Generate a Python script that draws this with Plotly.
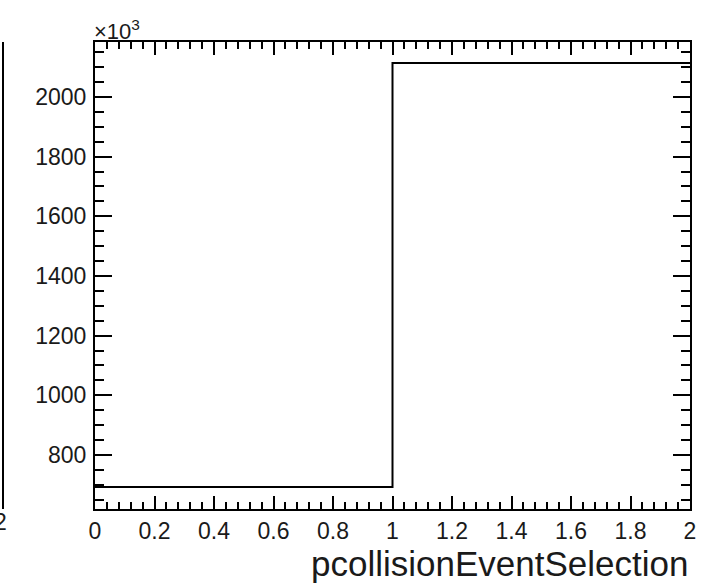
import plotly.graph_objects as go

# Data (counts in units of 10^3)
bin_edges = [0.0, 1.0, 2.0]
bin_counts = [693, 2114]
x_ticks = [0, 0.2, 0.4, 0.6, 0.8, 1, 1.2, 1.4, 1.6, 1.8, 2]
x_tick_labels = ["0", "0.2", "0.4", "0.6", "0.8", "1", "1.2", "1.4", "1.6", "1.8", "2"]
y_ticks = [800, 1000, 1200, 1400, 1600, 1800, 2000]
x_title = "pcollisionEventSelection"

step_x = bin_edges
step_y = bin_counts + [bin_counts[-1]]

FONT = "Liberation Sans, Arial, Helvetica, sans-serif"
TXT = "#1a1a1a"

fig = go.Figure()
fig.add_trace(go.Scatter(
    x=step_x, y=step_y, mode="lines", line_shape="hv",
    line=dict(color="black", width=2), showlegend=False, hoverinfo="skip"))

axis_common = dict(
    showline=True, linecolor="black", linewidth=2, mirror="ticks",
    ticks="inside", tickcolor="black", tickwidth=2,
    showgrid=False, zeroline=False,
    tickfont=dict(family=FONT, size=23, color=TXT),
)

fig.update_xaxes(
    range=[0, 2], tickvals=x_ticks, ticktext=x_tick_labels, ticklen=13,
    minor=dict(dtick=0.04, tick0=0, ticklen=7, ticks="inside", tickcolor="black", tickwidth=1.5),
    ticklabelstandoff=0,
    **axis_common)
fig.update_yaxes(
    range=[619, 2184], tickvals=y_ticks, ticklen=17,
    minor=dict(dtick=50, tick0=0, ticklen=9, ticks="inside", tickcolor="black", tickwidth=1.5),
    ticklabelstandoff=2,
    **axis_common)

fig.update_layout(
    width=708, height=583,
    margin=dict(l=95, r=18, t=42, b=74),
    paper_bgcolor="white", plot_bgcolor="white",
    font=dict(family=FONT, color=TXT),
    annotations=[
        dict(text="×10<sup>3</sup>", xref="paper", yref="paper", x=0, y=1,
             xanchor="left", yanchor="bottom", showarrow=False,
             font=dict(family=FONT, size=22, color=TXT), xshift=-3, yshift=-4),
        dict(text=x_title, xref="paper", yref="paper", x=1, y=0,
             xanchor="right", yanchor="top", showarrow=False,
             font=dict(family=FONT, size=35, color=TXT), xshift=0, yshift=-33),
        dict(text="2", xref="paper", yref="paper", x=0, y=0,
             xanchor="center", yanchor="top", showarrow=False,
             font=dict(family=FONT, size=23, color=TXT), xshift=-95, yshift=2),
    ],
    shapes=[
        dict(type="line", xref="paper", yref="paper", x0=-92/595, x1=-92/595,
             y0=0, y1=1, line=dict(color="black", width=2)),
    ],
)

fig.write_html("out.html", config={"displayModeBar": False},
               post_script="document.body.style.margin='0';")
